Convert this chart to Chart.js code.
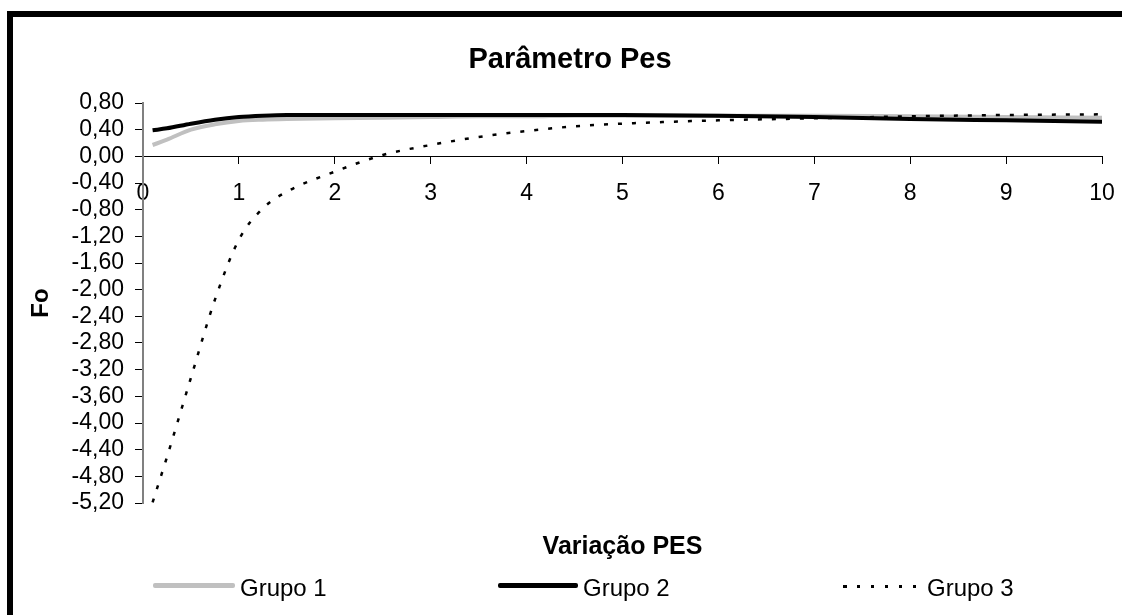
<!DOCTYPE html>
<html>
<head>
<meta charset="utf-8">
<script src="https://cdn.jsdelivr.net/npm/chart.js@4/dist/chart.umd.min.js"></script>
<style>
  html, body { margin: 0; padding: 0; background: #fff; }
  #wrap { position: relative; width: 1122px; height: 615px; overflow: hidden; font-family: 'Liberation Sans', Arial, sans-serif; }
  #c { display: block; }
  #frame { position: absolute; left: 7px; top: 11px; right: -20px; bottom: -20px; border-left: 6px solid #000; border-top: 6px solid #000; pointer-events: none; }
  .lg-sw { position: absolute; }
  .lg-tx { position: absolute; font-size: 24px; line-height: 24px; color: #000; white-space: nowrap; }
</style>
</head>
<body>
<div id="wrap">
  <canvas id="c" width="1122" height="615"></canvas>
  <div id="frame"></div>
  <div id="legend"></div>
</div>
<script>
// ---- data ----
const chartTitle = 'Parâmetro Pes';
const xAxisTitle = 'Variação PES';
const yAxisTitle = 'Fo';
const seriesNames = ['Grupo 1', 'Grupo 2', 'Grupo 3'];
const xValues = [0.1, 0.25, 0.5, 0.75, 1, 1.25, 1.5, 2, 2.5, 3, 3.5, 4, 4.5, 5, 6, 7, 8, 9, 10];
const grupo1 = [0.17, 0.25, 0.40, 0.48, 0.53, 0.55, 0.56, 0.57, 0.58, 0.59, 0.60, 0.60, 0.61, 0.61, 0.61, 0.61, 0.60, 0.59, 0.58];
const grupo2 = [0.39, 0.42, 0.49, 0.55, 0.59, 0.61, 0.62, 0.62, 0.62, 0.62, 0.62, 0.62, 0.62, 0.62, 0.61, 0.59, 0.56, 0.54, 0.52];
const grupo3 = [-5.19, -4.51, -3.32, -2.15, -1.25, -0.78, -0.53, -0.23, 0.02, 0.17, 0.29, 0.38, 0.45, 0.49, 0.54, 0.57, 0.60, 0.62, 0.63];
const xTicks = [0, 1, 2, 3, 4, 5, 6, 7, 8, 9, 10];
const yTicks = [0.8, 0.4, 0, -0.4, -0.8, -1.2, -1.6, -2.0, -2.4, -2.8, -3.2, -3.6, -4.0, -4.4, -4.8, -5.2];

// ---- styles ----
const FONT = "'Liberation Sans', Arial, sans-serif";
const seriesStyles = [
  { color: '#c0c0c0', width: 4, dash: [], order: 3 },
  { color: '#000000', width: 4, dash: [], order: 2 },
  { color: '#000000', width: 2.5, dash: [4, 10], order: 1 }
];
const legendLayout = [
  { swLeft: 153, swWidth: 82, swTop: 583, swHeight: 5, textLeft: 240 },
  { swLeft: 498, swWidth: 80, swTop: 583, swHeight: 5, textLeft: 583 },
  { swLeft: 843, swWidth: 78, swTop: 585, swHeight: 3, textLeft: 927 }
];
const legendTextTop = 576;

const toXY = ys => xValues.map((x, i) => ({ x: x, y: ys[i] }));
const fmt = v => (Math.abs(v) < 1e-9 ? 0 : v).toFixed(2).replace('.', ',');
const seriesData = [grupo1, grupo2, grupo3];

const datasets = seriesNames.map((name, i) => ({
  label: name,
  data: toXY(seriesData[i]),
  borderColor: seriesStyles[i].color,
  backgroundColor: seriesStyles[i].color,
  borderWidth: seriesStyles[i].width,
  borderDash: seriesStyles[i].dash,
  order: seriesStyles[i].order,
  pointRadius: 0,
  fill: false
}));

new Chart(document.getElementById('c'), {
  type: 'line',
  data: { datasets: datasets },
  options: {
    responsive: false,
    animation: false,
    devicePixelRatio: 1,
    elements: { line: { tension: 0.4, cubicInterpolationMode: 'monotone', borderCapStyle: 'butt' } },
    layout: { padding: { left: 38, right: 20, top: 0, bottom: 53 } },
    plugins: {
      legend: { display: false },
      tooltip: { enabled: false },
      title: {
        display: true, text: chartTitle, color: '#000',
        font: { family: FONT, size: 29, weight: 'bold' },
        padding: { top: 42.6, bottom: 25.6 }
      },
      subtitle: {
        display: true, text: xAxisTitle, color: '#000', position: 'bottom', fullSize: false,
        font: { family: FONT, size: 25, weight: 'bold' },
        padding: { top: 29, bottom: 0 }
      }
    },
    scales: {
      x: {
        type: 'linear', min: 0, max: 10, position: { y: 0 },
        afterBuildTicks: s => { s.ticks = xTicks.map(v => ({ value: v })); },
        afterFit: s => { s.paddingLeft = 0; s.paddingRight = 0; },
        ticks: { color: '#000', font: { family: FONT, size: 23 }, padding: 17, maxRotation: 0, autoSkip: false, callback: v => String(v) },
        grid: { drawOnChartArea: false, drawTicks: true, tickLength: 7, tickColor: '#000' },
        border: { color: '#000', width: 1 }
      },
      y: {
        type: 'linear', min: -5.2, max: 0.8,
        afterBuildTicks: s => { s.ticks = yTicks.map(v => ({ value: v })); },
        afterFit: s => { s.width = 105; },
        ticks: { color: '#000', font: { family: FONT, size: 23 }, padding: 11, autoSkip: false, callback: v => fmt(v) },
        grid: { drawOnChartArea: false, drawTicks: true, tickLength: 8, tickColor: '#000' },
        border: { color: '#808080', width: 2 },
        title: { display: true, text: yAxisTitle, color: '#000', font: { family: FONT, size: 24, weight: 'bold' }, padding: { top: -11, bottom: 0 } }
      }
    }
  }
});

// ---- HTML legend built from the datasets ----
const legendEl = document.getElementById('legend');
datasets.forEach((ds, i) => {
  const L = legendLayout[i];
  const sw = document.createElement('div');
  sw.className = 'lg-sw';
  sw.style.left = L.swLeft + 'px';
  sw.style.top = L.swTop + 'px';
  sw.style.width = L.swWidth + 'px';
  sw.style.height = L.swHeight + 'px';
  if (ds.borderDash && ds.borderDash.length) {
    const on = ds.borderDash[0] - 0.5, per = ds.borderDash[0] + ds.borderDash[1];
    sw.style.background = 'repeating-linear-gradient(to right, ' + ds.borderColor + ' 0px, ' + ds.borderColor + ' ' + on + 'px, transparent ' + on + 'px, transparent ' + per + 'px)';
  } else {
    sw.style.background = ds.borderColor;
    sw.style.borderRadius = '2px';
  }
  legendEl.appendChild(sw);
  const tx = document.createElement('div');
  tx.className = 'lg-tx';
  tx.style.left = L.textLeft + 'px';
  tx.style.top = legendTextTop + 'px';
  tx.textContent = ds.label;
  legendEl.appendChild(tx);
});
</script>
</body>
</html>
